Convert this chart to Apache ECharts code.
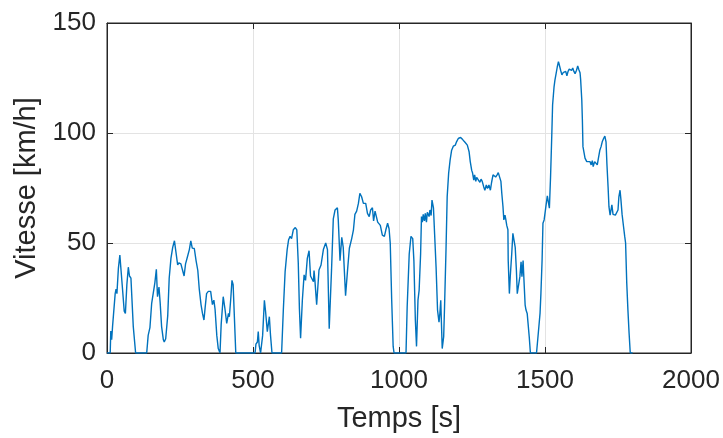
<!DOCTYPE html>
<html>
<head>
<meta charset="utf-8">
<script src="https://cdn.jsdelivr.net/npm/echarts@6/dist/echarts.min.js"></script>
<style>html,body{margin:0;padding:0;background:#fff}#c{width:723px;height:438px}</style>
</head>
<body>
<div id="c"></div>
<script>
var xTicks = [0, 500, 1000, 1500, 2000];
var yTicks = [0, 50, 100, 150];
var xTitle = 'Temps [s]';
var yTitle = 'Vitesse [km/h]';
var timeS = [0,11,13,16,19,23,28,31,34,39,44,48,52,59,63,68,73,77,82,90,98,136,141,147,153,159,164,169,173,178,182,187,193,196,201,208,213,219,225,231,236,242,246,253,259,264,269,276,282,287,292,299,305,311,316,322,327,332,336,341,347,355,361,366,370,376,381,387,391,398,404,410,416,419,424,428,432,435,441,507,510,515,518,521,526,533,539,543,549,556,560,565,598,604,610,617,622,627,632,638,645,650,655,659,663,669,675,680,686,692,697,703,707,709,712,718,726,733,741,749,755,761,769,775,781,789,792,798,804,809,817,824,830,838,844,849,855,861,866,872,878,886,892,898,903,909,913,918,924,927,932,936,943,950,955,961,966,970,975,980,983,1024,1028,1035,1041,1047,1051,1056,1060,1065,1069,1074,1077,1080,1083,1087,1090,1094,1097,1103,1106,1110,1113,1118,1122,1127,1132,1137,1140,1143,1145,1148,1153,1156,1161,1165,1170,1175,1180,1186,1193,1197,1203,1211,1218,1226,1234,1240,1244,1249,1252,1256,1259,1263,1266,1272,1277,1281,1285,1290,1294,1299,1303,1308,1313,1317,1322,1327,1331,1336,1340,1345,1349,1352,1356,1359,1363,1366,1369,1373,1374,1378,1381,1386,1390,1394,1398,1402,1405,1410,1414,1418,1421,1425,1428,1432,1435,1439,1443,1446,1450,1471,1477,1483,1486,1490,1493,1497,1503,1508,1511,1515,1519,1523,1526,1531,1534,1538,1542,1546,1549,1554,1558,1562,1567,1571,1575,1579,1583,1588,1591,1595,1599,1603,1608,1612,1616,1620,1622,1626,1628,1630,1634,1637,1643,1648,1654,1658,1662,1665,1670,1674,1679,1683,1688,1692,1696,1701,1705,1709,1712,1716,1719,1723,1726,1729,1733,1736,1741,1745,1750,1753,1757,1760,1764,1769,1773,1776,1780,1784,1788,1792,1800];
var speedKmh = [0,0,10,6,12,12.5,27,29,27,38.5,44.5,44,31,19,18,31,39,35,34,12,0,0,8,11.5,22.6,23,32,38,25.6,30,23,12,6,5,6.5,17,34,43,48,51,46,40,41,40.5,37.5,35,40.5,44,47,51,47.7,47.5,42,37.5,29,22,18,15,20.5,27,28,28,22,24,20,8,2,0,13,25.6,20,13.5,18,16.5,25,33,31,20.5,0,0,4,5,9.7,3.5,0,8,24,19,9.7,16.5,8,0,0,20,37,47,51.5,53,52,56,57,56,41,20,6.7,24,35.5,33,43,46.5,35,35,32.4,37.5,33,22,37.7,40,47,50,47,11,38,61,65,66,60.5,42,52.6,48,26,38,47.6,52,56,63,64.5,68,72.6,71,68,68,63.5,62,65,66,60,64.5,64,59.5,60,58,53.6,53,56,59,56.5,50,24,3,0,0,21,45,53,52,42,15,3,24,28.6,45,62,59.5,63,60,63.5,59.5,64,62,65,62.5,69.5,66,54,39,19.5,14,18,24,15,2,7.4,21,47,71,81.7,87.7,92,94,94.5,96,97.5,98,97,95.8,94.5,91.5,87,83,81.8,78.6,81,78,79.8,79,77.6,79,78,75.6,74,76.4,74.8,76.4,74,77.5,81,81.8,80,81,82,82,78,72.6,66.7,60.5,62.7,60.5,58,56,42,27,34.7,45,54.4,53.6,48,37.7,27,26.8,34.7,41.5,34.7,42,33,21.8,19.5,18,18,7.4,0,0,9,18,27,42,59,60.5,66.5,71.4,69,65.8,80,98,112.7,121,124,127,130,132.4,131,128.3,126.4,127.4,127,128,126,128,129,129.5,128.5,129.5,128,127,128.5,130.5,128.8,127.4,124.4,115,106,93.8,90.8,88.6,87,86.5,87,85.5,87.4,84.7,87,87.7,85.5,88.6,92.3,93.8,96,97.6,98.6,96,86,75.6,66.5,62.7,65,67.3,63,63,62.7,63,65,71,74,69.7,63,57.4,53,50,31.7,19.5,9,0,0];

var pts = timeS.map(function (t, i) { return [t, speedKmh[i]]; });
var txt = '#262626';
var font = 'Liberation Sans, Arial, Helvetica, sans-serif';
var xMin = xTicks[0], xMax = xTicks[xTicks.length - 1];
var yMin = yTicks[0], yMax = yTicks[yTicks.length - 1];
var plain = function (v) { return String(v); };

var chart = echarts.init(document.getElementById('c'), null, {renderer: 'canvas'});
chart.setOption({
  animation: false,
  backgroundColor: '#ffffff',
  grid: {left: 107, right: 32, top: 23, bottom: 85, show: true, borderColor: txt, borderWidth: 1, backgroundColor: 'transparent'},
  xAxis: [{
    type: 'value', min: xMin, max: xMax, interval: 500,
    name: xTitle, nameLocation: 'middle', nameGap: 51,
    nameTextStyle: {fontSize: 29, color: txt, fontFamily: font},
    axisLine: {show: true, onZero: false, lineStyle: {color: txt, width: 1}},
    axisTick: {show: true, inside: true, length: 6, lineStyle: {color: txt}},
    axisLabel: {fontSize: 26, color: txt, fontFamily: font, margin: 15, formatter: plain},
    splitLine: {show: true, lineStyle: {color: '#e3e3e3', width: 1}}
  }, {
    type: 'value', min: xMin, max: xMax, interval: 500, position: 'top',
    axisLine: {show: true, onZero: false, lineStyle: {color: txt, width: 1}},
    axisTick: {show: true, inside: true, length: 6, lineStyle: {color: txt}},
    axisLabel: {show: false}, splitLine: {show: false}
  }],
  yAxis: [{
    type: 'value', min: yMin, max: yMax, interval: 50,
    name: yTitle, nameLocation: 'middle', nameGap: 57, nameRotate: 90,
    nameTextStyle: {fontSize: 29, color: txt, fontFamily: font},
    axisLine: {show: true, onZero: false, lineStyle: {color: txt, width: 1}},
    axisTick: {show: true, inside: true, length: 6, lineStyle: {color: txt}},
    axisLabel: {fontSize: 26, color: txt, fontFamily: font, margin: 11, formatter: plain},
    splitLine: {show: true, lineStyle: {color: '#e3e3e3', width: 1}}
  }, {
    type: 'value', min: yMin, max: yMax, interval: 50, position: 'right',
    axisLine: {show: true, onZero: false, lineStyle: {color: txt, width: 1}},
    axisTick: {show: true, inside: true, length: 6, lineStyle: {color: txt}},
    axisLabel: {show: false}, splitLine: {show: false}
  }],
  series: [{
    type: 'line', data: pts, xAxisIndex: 0, yAxisIndex: 0,
    showSymbol: false, symbol: 'none',
    lineStyle: {color: '#0072BD', width: 1.4},
    clip: true
  }]
});
</script>
</body>
</html>
